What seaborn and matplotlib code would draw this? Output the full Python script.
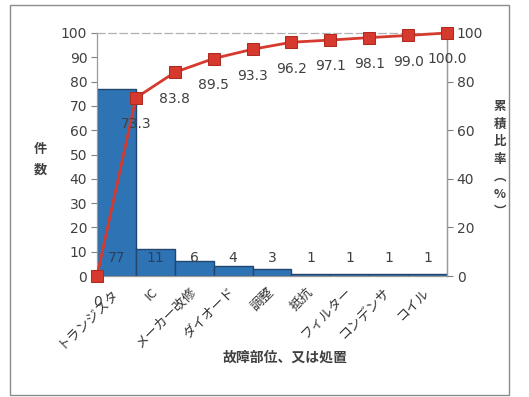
import numpy as np
import pandas as pd
import matplotlib
matplotlib.use("Agg")
import matplotlib.pyplot as plt
from matplotlib.patches import Rectangle
import seaborn as sns

# Failure locations / actions and their counts (Pareto order)
categories = ["トランジスタ", "IC", "メーカー改修", "ダイオード", "調整",
              "抵抗", "フィルター", "コンデンサ", "コイル"]
counts = [77, 11, 6, 4, 3, 1, 1, 1, 1]
# Cumulative share (%) at each category boundary, starting from 0
cumulative_pct = [0, 73.3, 83.8, 89.5, 93.3, 96.2, 97.1, 98.1, 99.0, 100.0]
left_ticks = list(range(0, 101, 10))
right_ticks = list(range(0, 101, 20))

sns.set_theme(style="white")
plt.rcParams["font.family"] = ["DejaVu Sans", "Noto Sans CJK JP"]
plt.rcParams["axes.unicode_minus"] = False

TEXT = "#404040"
BAR = "#2E74B5"
LINE = "#D63A2E"

W, H = 529, 397
fig = plt.figure(figsize=(W / 100, H / 100), dpi=100)
fig.patch.set_facecolor("white")

# plot area in pixel coordinates: x 97..447, y 33..276
ax = fig.add_axes([97 / W, 1 - 276 / H, 350 / W, 243 / H])

df = pd.DataFrame({"部位": categories, "件数": counts})
sns.barplot(data=df, x="部位", y="件数", color=BAR, saturation=1, width=1.0,
            edgecolor="#22466E", linewidth=1.0, ax=ax)

ax.set_xlim(-0.5, len(categories) - 0.5)
ax.set_ylim(0, 100)
ax.set_yticks(left_ticks)
ax.set_xlabel("")
ax.set_ylabel("")
ax.tick_params(axis="y", which="both", left=True, length=4, width=0.8,
               color="#808080", labelsize=10, labelcolor=TEXT, pad=3)
ax.tick_params(axis="x", length=0, pad=10)
ax.set_xticks(range(len(categories)))
ax.set_xticklabels(categories, rotation=45, ha="right", va="center",
                   rotation_mode="anchor", fontsize=9.5, color="#333333",
                   family=["Noto Sans CJK JP", "DejaVu Sans"])

for side in ("left", "bottom", "right"):
    ax.spines[side].set_color("#9a9a9a")
    ax.spines[side].set_linewidth(0.9)
ax.spines["top"].set_color("#b0b0b0")
ax.spines["top"].set_linestyle((0, (6, 3)))
ax.spines["top"].set_linewidth(0.9)

# count labels at the base of each bar
for i, c in enumerate(counts):
    ax.annotate(str(c), xy=(i, 0), xytext=(0, 13), textcoords="offset points",
                ha="center", va="center", fontsize=10,
                color="#2B3F5C" if c > 10 else TEXT)

# cumulative percentage line on the secondary axis
ax2 = ax.twinx()
edges = np.arange(len(cumulative_pct)) - 0.5
sns.lineplot(x=edges, y=cumulative_pct, ax=ax2, color=LINE, linewidth=2,
             marker="s", markersize=8, markerfacecolor=LINE,
             markeredgecolor="#B02A20", clip_on=False, zorder=5)
ax2.set_ylim(0, 100)
ax2.set_yticks(right_ticks)
ax2.set_ylabel("")
ax2.tick_params(axis="y", right=True, length=4, width=0.8, color="#808080",
                labelsize=10, labelcolor=TEXT, pad=3)
for side in ("left", "bottom", "top"):
    ax2.spines[side].set_visible(False)
ax2.spines["right"].set_color("#9a9a9a")
ax2.spines["right"].set_linewidth(0.9)

for x, v in zip(edges, cumulative_pct):
    lab = "0" if v == 0 else f"{v:.1f}"
    ax2.annotate(lab, xy=(x, v), xytext=(0, -19), textcoords="offset points",
                 ha="center", va="center", fontsize=10, color=TEXT,
                 annotation_clip=False, zorder=6)

# axis titles, written vertically
bold_jp = dict(family=["Noto Sans CJK JP", "DejaVu Sans"], fontweight="bold",
               color=TEXT)
fig.text(40 / W, 1 - 159 / H, "件\n数", ha="center", va="center",
         fontsize=9.5, linespacing=1.6, **bold_jp)
fig.text(500 / W, 1 - 159 / H, "累\n積\n比\n率\n︵\n%\n︶", ha="center",
         va="center", fontsize=9, linespacing=1.45, **bold_jp)
fig.text(285 / W, 1 - 358 / H, "故障部位、又は処置", ha="center", va="center",
         fontsize=10, **bold_jp)

# chart frame
fig.patches.append(Rectangle((10 / W, 2 / H), 499 / W, 390 / H,
                             transform=fig.transFigure, fill=False,
                             edgecolor="#8c8c8c", linewidth=1.0))

fig.savefig("out.png", dpi=100)
